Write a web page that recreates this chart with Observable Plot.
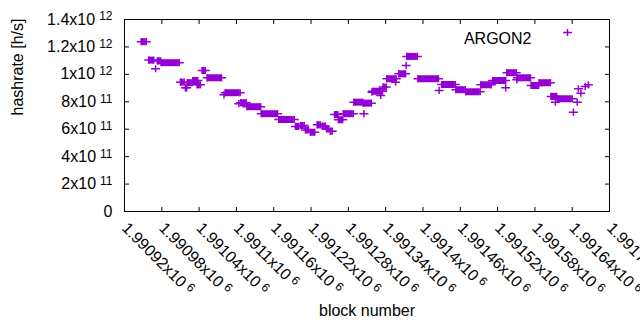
<!DOCTYPE html>
<html>
<head>
<meta charset="utf-8">
<script src="https://cdn.jsdelivr.net/npm/d3@7"></script>
<script src="https://cdn.jsdelivr.net/npm/@observablehq/plot@0.6"></script>
<style>
  html, body { margin: 0; padding: 0; background: #fff; }
  svg { display: block; }
</style>
</head>
<body>
<div id="chart"></div>
<script>
// ---- data (runs of blocks sharing one hashrate value) ----
const runStart = [1990947,1990959,1990970,1990973,1990979,1991010,1991018,1991021,1991030,1991037,
  1991045,1991053,1991080,1991082,1991104,1991107,1991117,1991140,1991168,1991195,
  1991203,1991211,1991219,1991230,1991238,1991245,1991251,1991258,1991264,1991272,
  1991289,1991304,1991305,1991318,1991319,1991332,1991336,1991342,1991356,1991361,
  1991373,1991374,1991392,1991426,1991430,1991453,1991469,1991493,1991512,1991533,
  1991535,1991551,1991552,1991574,1991587,1991606,1991613,1991616,1991642,1991648,
  1991650,1991654,1991661,1991666];
const runEnd = [1990955,1990967,1990970,1990978,1991008,1991016,1991020,1991029,1991038,1991042,
  1991050,1991076,1991080,1991106,1991104,1991116,1991139,1991166,1991193,1991200,
  1991209,1991216,1991226,1991235,1991243,1991248,1991254,1991263,1991271,1991288,
  1991303,1991317,1991305,1991318,1991335,1991332,1991341,1991357,1991356,1991372,
  1991373,1991391,1991425,1991426,1991452,1991468,1991492,1991510,1991533,1991533,
  1991550,1991551,1991573,1991586,1991605,1991615,1991613,1991640,1991642,1991648,
  1991650,1991654,1991661,1991666];
const runValue = [1.238e12,1.104e12,1.041e12,1.098e12,1.085e12,0.943e12,0.902e12,0.939e12,0.955e12,0.924e12,
  1.028e12,0.975e12,0.851e12,0.866e12,0.786e12,0.793e12,0.764e12,0.713e12,0.671e12,0.620e12,
  0.627e12,0.595e12,0.578e12,0.632e12,0.622e12,0.603e12,0.586e12,0.707e12,0.669e12,0.713e12,
  0.797e12,0.790e12,0.713e12,0.870e12,0.877e12,0.846e12,0.907e12,0.968e12,0.943e12,1.004e12,
  1.065e12,1.131e12,0.968e12,0.883e12,0.926e12,0.888e12,0.873e12,0.924e12,0.955e12,0.902e12,
  1.012e12,0.960e12,0.975e12,0.919e12,0.939e12,0.839e12,0.797e12,0.822e12,0.724e12,0.797e12,
  0.895e12,0.863e12,0.912e12,0.924e12];

const xTicks = [1990920,1990980,1991040,1991100,1991160,1991220,1991280,1991340,1991400,1991460,1991520,1991580,1991640,1991700];
const xTickLabels = ["1.99092x10^6","1.99098x10^6","1.99104x10^6","1.9911x10^6","1.99116x10^6","1.99122x10^6","1.99128x10^6",
  "1.99134x10^6","1.9914x10^6","1.99146x10^6","1.99152x10^6","1.99158x10^6","1.99164x10^6","1.9917x10^6"];
const yTicks = [0,2e11,4e11,6e11,8e11,1e12,1.2e12,1.4e12];
const yTickLabels = ["0","2x10^11","4x10^11","6x10^11","8x10^11","1x10^12","1.2x10^12","1.4x10^12"];
const seriesName = "ARGON2";
const xTitle = "block number";
const yTitle = "hashrate [h/s]";

// ---- derived tables ----
const runs = runStart.map((s, i) => ({start: s, end: runEnd[i], value: runValue[i]}));
const ends = runs.flatMap(r => r.start === r.end ? [{x: r.start, y: r.value}] : [{x: r.start, y: r.value}, {x: r.end, y: r.value}]);
const xLabel = new Map(xTicks.map((t, i) => [t, xTickLabels[i]]));
const yLabel = new Map(yTicks.map((t, i) => [t, yTickLabels[i]]));

const color = "#9400d3";
const FONT = "'Liberation Sans', Arial, sans-serif";
const rad = s => Math.sqrt(s / Math.PI);
const plusSym = {draw(c, s) { const r = rad(s); c.moveTo(-r, 0); c.lineTo(r, 0); c.moveTo(0, -r * 0.8); c.lineTo(0, r * 0.8); }};
const tickUp = {draw(c, s) { const r = rad(s); c.moveTo(0, 0); c.lineTo(0, -r); }};
const tickDown = {draw(c, s) { const r = rad(s); c.moveTo(0, 0); c.lineTo(0, r); }};
const tickRight = {draw(c, s) { const r = rad(s); c.moveTo(0, 0); c.lineTo(r, 0); }};
const tickLeft = {draw(c, s) { const r = rad(s); c.moveTo(0, 0); c.lineTo(-r, 0); }};
const xDom = [xTicks[0], xTicks[xTicks.length - 1]];
const yDom = [yTicks[0], yTicks[yTicks.length - 1]];

const chart = Plot.plot({
  width: 640,
  height: 330,
  marginLeft: 124,
  marginRight: 31,
  marginTop: 19,
  marginBottom: 119,
  x: {domain: xDom},
  y: {domain: yDom},
  style: {fontFamily: FONT, fontSize: "16px", color: "#000", background: "#fff"},
  marks: [
    Plot.axisX(xTicks, {tickFormat: d => xLabel.get(d), tickRotate: 45, tickSize: 0, tickPadding: 14, label: null, fill: "#000"}),
    Plot.axisY(yTicks, {tickFormat: d => yLabel.get(d), tickSize: 0, tickPadding: 12, label: null, fill: "#000"}),
    Plot.dot(xTicks.slice(1, -1), {x: d => d, y: yDom[0], symbol: tickUp, r: 4.5, stroke: "#000", fill: "none", strokeWidth: 1}),
    Plot.dot(xTicks.slice(1, -1), {x: d => d, y: yDom[1], symbol: tickDown, r: 4.5, stroke: "#000", fill: "none", strokeWidth: 1}),
    Plot.dot(yTicks.slice(1, -1), {x: xDom[0], y: d => d, symbol: tickRight, r: 4.5, stroke: "#000", fill: "none", strokeWidth: 1}),
    Plot.dot(yTicks.slice(1, -1), {x: xDom[1], y: d => d, symbol: tickLeft, r: 4.5, stroke: "#000", fill: "none", strokeWidth: 1}),
    Plot.ruleY(runs, {y: "value", x1: "start", x2: "end", stroke: color, strokeWidth: 7}),
    Plot.dot(ends, {x: "x", y: "y", symbol: plusSym, r: 4.5, stroke: color, fill: "none", strokeWidth: 1.5}),
    Plot.frame({stroke: "#000", strokeWidth: 1}),
    Plot.text([seriesName], {frameAnchor: "top-right", text: d => d, textAnchor: "end", dx: -78, dy: 13, fill: "#000"}),
    Plot.dot([seriesName], {frameAnchor: "top-right", symbol: plusSym, r: 4.5, dx: -42, dy: 13, stroke: color, fill: "none", strokeWidth: 1.5}),
    Plot.text([xTitle], {frameAnchor: "bottom", text: d => d, dy: 104, fill: "#000"}),
    Plot.text([yTitle], {frameAnchor: "left", text: d => d, rotate: -90, dx: -107, fill: "#000"})
  ]
});

// superscript exponents (gnuplot enhanced-text style), with explicit font settings
d3.select(chart).selectAll("text").each(function() {
  const sel = d3.select(this);
  sel.style("font-family", FONT).style("font-size", "16px").style("font-variant", "normal");
  const t = this.textContent;
  const m = t.match(/^(.*)\^(\d+)$/);
  if (m) {
    sel.text(m[1]);
    sel.append("tspan").attr("dx", 4).attr("dy", "-0.35em").style("font-size", "12px").text(m[2]);
  }
});

document.getElementById("chart").appendChild(chart);
</script>
</body>
</html>
